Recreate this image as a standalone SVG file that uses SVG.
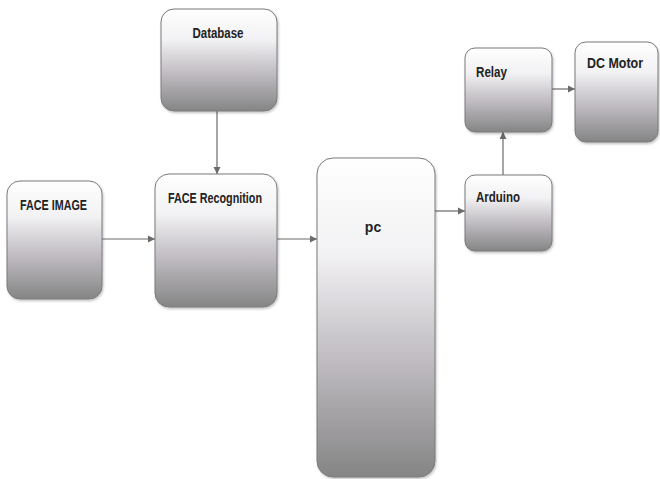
<svg xmlns="http://www.w3.org/2000/svg" width="660" height="479" viewBox="0 0 660 479">
<defs>
<linearGradient id="g" x1="0" y1="0" x2="0" y2="1">
<stop offset="0" stop-color="#ffffff"/>
<stop offset="0.3" stop-color="#f2f1f3"/>
<stop offset="0.65" stop-color="#bdb9bf"/>
<stop offset="1" stop-color="#858585"/>
</linearGradient>
<marker id="arr" markerWidth="8" markerHeight="8" refX="7" refY="4" orient="auto" markerUnits="userSpaceOnUse">
<path d="M0,0.5 L7,4 L0,7.5 Z" fill="#6a6a6a"/>
</marker>
<filter id="sh" x="-10%" y="-10%" width="130%" height="130%">
<feDropShadow dx="1" dy="1.5" stdDeviation="1.2" flood-color="#000" flood-opacity="0.25"/>
</filter>
</defs>
<style>
.box{fill:url(#g);stroke:#7a7a7a;stroke-width:1;filter:url(#sh)}
.t{font-family:"Liberation Sans",Arial,sans-serif;font-weight:bold;font-size:14px;fill:#222}
.c{stroke:#6a6a6a;stroke-width:1.2;fill:none;marker-end:url(#arr)}
</style>
<rect width="660" height="479" fill="#ffffff"/>
<g id="connectors">
<line class="c" x1="217" y1="111" x2="217" y2="174"/>
<line class="c" x1="102" y1="239" x2="155" y2="239"/>
<line class="c" x1="277" y1="239" x2="317" y2="239"/>
<line class="c" x1="435" y1="211" x2="465" y2="211"/>
<line class="c" x1="503" y1="175" x2="503" y2="132"/>
<line class="c" x1="552" y1="89" x2="575" y2="89"/>
</g>
<g id="database">
<rect class="box" x="161" y="9" width="116" height="102" rx="13"/>
<text class="t" x="218" y="38" text-anchor="middle" textLength="51" lengthAdjust="spacingAndGlyphs">Database</text>
</g>
<g id="face-image">
<rect class="box" x="7" y="181" width="95" height="118" rx="13"/>
<text class="t" x="20" y="210" textLength="67" lengthAdjust="spacingAndGlyphs">FACE IMAGE</text>
</g>
<g id="face-recognition">
<rect class="box" x="155" y="174" width="122" height="133" rx="14"/>
<text class="t" x="168" y="203" textLength="94" lengthAdjust="spacingAndGlyphs">FACE Recognition</text>
</g>
<g id="pc">
<rect class="box" x="317" y="158" width="118" height="319" rx="16"/>
<text class="t" x="373" y="232" text-anchor="middle">pc</text>
</g>
<g id="arduino">
<rect class="box" x="465" y="175" width="87" height="76" rx="10"/>
<text class="t" x="476" y="202" textLength="44" lengthAdjust="spacingAndGlyphs">Arduino</text>
</g>
<g id="relay">
<rect class="box" x="465" y="48" width="87" height="84" rx="10"/>
<text class="t" x="476" y="77" textLength="31" lengthAdjust="spacingAndGlyphs">Relay</text>
</g>
<g id="dc-motor">
<rect class="box" x="575" y="42" width="83" height="100" rx="11"/>
<text class="t" x="587" y="68" textLength="56" lengthAdjust="spacingAndGlyphs">DC Motor</text>
</g>
</svg>
